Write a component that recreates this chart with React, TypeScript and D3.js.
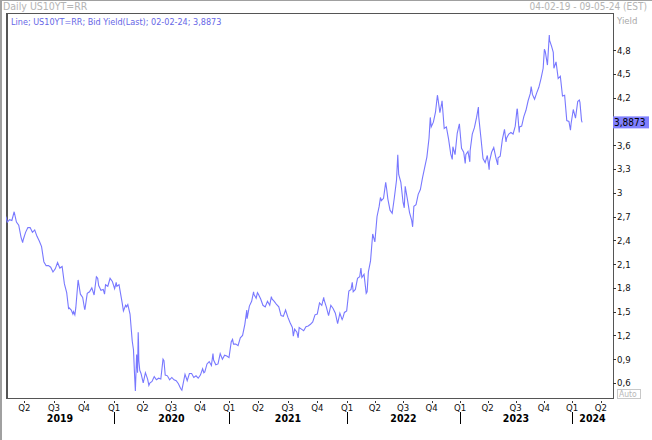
import React from "react";
import * as d3 from "d3";

// ---- DATA (weekly Friday closes, US 10Y yield) ----
const weeklyStart = "2019-02-08";
const yields2019 = [2.63, 2.66, 2.65, 2.76, 2.63, 2.59, 2.44, 2.41, 2.50, 2.56, 2.56, 2.50, 2.53, 2.45, 2.39, 2.32, 2.13, 2.08, 2.08, 2.06, 2.00, 2.04, 2.12, 2.05, 2.07, 1.85, 1.74, 1.55, 1.52, 1.50, 1.55, 1.90, 1.72, 1.68, 1.53, 1.73, 1.75, 1.80, 1.71, 1.94, 1.83, 1.77, 1.78, 1.84, 1.82, 1.92, 1.88];
const yields2020 = [1.79, 1.82, 1.84, 1.68, 1.51, 1.58, 1.59, 1.47, 1.13, 0.74, 0.96, 0.88, 0.72, 0.60, 0.73, 0.65, 0.60, 0.62, 0.68, 0.64, 0.66, 0.65, 0.90, 0.70, 0.69, 0.64, 0.67, 0.64, 0.63, 0.59, 0.53, 0.57, 0.71, 0.63, 0.72, 0.72, 0.67, 0.69, 0.66, 0.70, 0.78, 0.74, 0.84, 0.87, 0.82, 0.89, 0.83, 0.84, 0.97, 0.90, 0.95, 0.94];
const yields2021 = [0.92, 1.12, 1.09, 1.09, 1.07, 1.17, 1.20, 1.34, 1.41, 1.57, 1.63, 1.72, 1.67, 1.72, 1.66, 1.58, 1.56, 1.63, 1.58, 1.66, 1.63, 1.59, 1.56, 1.45, 1.44, 1.52, 1.43, 1.36, 1.30, 1.28, 1.24, 1.30, 1.28, 1.26, 1.31, 1.32, 1.34, 1.37, 1.46, 1.47, 1.61, 1.58, 1.65, 1.56, 1.45, 1.58, 1.54, 1.48, 1.35, 1.48, 1.40, 1.49, 1.51];
const yields2022 = [1.76, 1.78, 1.75, 1.78, 1.92, 1.94, 1.93, 1.97, 1.73, 2.00, 2.14, 2.48, 2.38, 2.70, 2.83, 2.90, 2.93, 3.13, 2.92, 2.78, 2.74, 2.94, 3.16, 3.23, 3.13, 2.88, 3.08, 2.92, 2.75, 2.65, 2.83, 2.85, 2.98, 3.04, 3.19, 3.32, 3.45, 3.69, 3.83, 3.89, 4.02, 4.21, 4.01, 4.16, 3.81, 3.83, 3.68, 3.49, 3.58, 3.48, 3.75, 3.87];
const yields2023 = [3.56, 3.51, 3.48, 3.52, 3.53, 3.74, 3.82, 3.95, 3.96, 3.70, 3.43, 3.38, 3.47, 3.39, 3.51, 3.57, 3.44, 3.44, 3.46, 3.67, 3.80, 3.69, 3.74, 3.76, 3.74, 3.84, 4.05, 3.83, 3.84, 3.96, 4.04, 4.16, 4.25, 4.24, 4.18, 4.26, 4.33, 4.44, 4.57, 4.78, 4.61, 4.92, 4.84, 4.57, 4.65, 4.44, 4.47, 4.22, 4.23, 3.91, 3.90, 3.87];
const yields2024 = [4.05, 3.94, 4.15, 4.14, 3.8873];

// intra-week highs / lows visible in the chart
const extraDates = ["2019-02-04", "2019-03-27", "2019-08-15", "2019-08-28", "2019-09-03", "2019-10-03", "2019-11-12", "2019-12-03", "2020-01-08", "2020-01-27", "2020-02-10", "2020-03-03", "2020-03-09", "2020-03-16", "2020-03-18", "2020-03-19", "2020-03-23", "2020-04-21", "2020-06-08", "2020-08-04", "2020-10-13", "2020-11-11", "2021-01-12", "2021-02-25", "2021-03-18", "2021-03-30", "2021-05-12", "2021-07-19", "2021-08-03", "2021-10-21", "2021-12-20", "2022-01-18", "2022-02-15", "2022-03-07", "2022-04-19", "2022-05-09", "2022-06-14", "2022-07-05", "2022-08-01", "2022-09-27", "2022-10-20", "2022-11-03", "2022-12-07", "2023-01-18", "2023-02-02", "2023-03-02", "2023-04-06", "2023-05-04", "2023-05-31", "2023-07-06", "2023-07-13", "2023-08-21", "2023-10-03", "2023-10-19", "2023-11-01", "2023-12-27", "2024-01-24", "2024-01-31"];
const extraYields = [2.70, 2.37, 1.53, 1.47, 1.46, 1.53, 1.92, 1.72, 1.87, 1.61, 1.56, 1.02, 0.50, 0.73, 1.24, 1.12, 0.76, 0.57, 0.88, 0.51, 0.73, 0.97, 1.15, 1.52, 1.75, 1.74, 1.69, 1.19, 1.17, 1.68, 1.43, 1.87, 2.05, 1.75, 2.94, 3.05, 3.48, 2.81, 2.57, 3.95, 4.23, 4.13, 3.42, 3.37, 3.39, 4.08, 3.29, 3.35, 3.64, 4.06, 3.76, 4.34, 4.81, 4.99, 4.77, 3.79, 4.17, 3.91];

const yTicks = [0.6, 0.9, 1.2, 1.5, 1.8, 2.1, 2.4, 2.7, 3.0, 3.3, 3.6, 4.2, 4.5, 4.8];
const lastValue = 3.8873;
const titleText = "Daily US10YT=RR";
const rangeText = "04-02-19 - 09-05-24 (EST)";
const legendText = "Line; US10YT=RR; Bid Yield(Last); 02-02-24; 3,8873";
const axisTitle = "Yield";

// ---- LAYOUT ----
const W = 652, H = 440;
const L = 6, R = 613, T = 13, B = 399;
const xAnchorDates = ["2019-02-04", "2020-01-01", "2021-01-01", "2022-01-01", "2023-01-01", "2024-01-01", "2024-05-09"];
const xAnchorPx = [L, 114, 229, 347, 460, 572, R];
const FONT = "Tahoma, 'DejaVu Sans Condensed', 'DejaVu Sans', sans-serif";
const LINE_COLOR = "#7878ff";

const parse = d3.timeParse("%Y-%m-%d");

function fmt(v: number) {
  const s = Math.abs(v - Math.round(v)) < 1e-9 ? String(Math.round(v)) : v.toFixed(1);
  return s.replace(".", ",");
}

export default function App() {
  const weekly = [...yields2019, ...yields2020, ...yields2021, ...yields2022, ...yields2023, ...yields2024];
  const start = parse(weeklyStart)!;
  const pts = weekly.map((v, i) => ({ date: d3.timeDay.offset(start, 7 * i), v }));
  extraDates.forEach((d, i) => pts.push({ date: parse(d)!, v: extraYields[i] }));
  pts.sort((a, b) => +a.date - +b.date);

  const x = d3.scaleTime().domain(xAnchorDates.map((d) => parse(d)!)).range(xAnchorPx);
  const y = d3.scaleLinear().domain([0.398, 5.267]).range([B, T]);

  const line = d3.line<{ date: Date; v: number }>().x((d) => x(d.date)).y((d) => y(d.v));

  const d0 = parse(xAnchorDates[0])!;
  const d1 = parse(xAnchorDates[xAnchorDates.length - 1])!;
  const quarters = d3.timeMonth.every(3)!.range(d0, d1).filter((d) => d.getMonth() % 3 === 0);
  const years = d3.timeYear.range(d3.timeYear.floor(d0), d1);

  return (
    <svg width={W} height={H} style={{ position: "absolute", left: 0, top: 0, background: "#fff" }} fontFamily={FONT}>
      <rect x={0} y={0} width={W} height={H} fill="#fff" />
      {/* outer sunken border */}
      <line x1={0} y1={0.5} x2={W} y2={0.5} stroke="#a0a0a0" />
      <line x1={1} y1={0} x2={1} y2={H} stroke="#a0a0a0" strokeWidth={2} />

      <text x={3} y={10} fontSize={10.5} fill="#b4b4b4">{titleText}</text>
      <text x={647} y={10} fontSize={10} fill="#b4b4b4" textAnchor="end">{rangeText}</text>
      <text x={617} y={24} fontSize={9.5} fill="#a8a8a8">{axisTitle}</text>

      <defs>
        <clipPath id="plotclip">
          <rect x={L} y={T} width={R - L} height={B - T} />
        </clipPath>
      </defs>

      {/* plot frame */}
      <rect x={L + 0.5} y={T + 0.5} width={R - L} height={B - T - 1} fill="#fff" stroke="#555" strokeWidth={1} />
      <line x1={L + 1.5} y1={T} x2={L + 1.5} y2={B} stroke="#555" strokeWidth={1} />
      <line x1={L} y1={B - 0.5} x2={R + 1} y2={B - 0.5} stroke="#555" strokeWidth={1} />

      <text x={11} y={25} fontSize={9} fill="#6666e6">{legendText}</text>

      <path d={line(pts) || ""} fill="none" stroke={LINE_COLOR} strokeWidth={1.1} clipPath="url(#plotclip)" />

      {/* y axis */}
      {yTicks.map((t) => (
        <g key={t}>
          <line x1={R} x2={R + 3} y1={Math.round(y(t)) + 0.5} y2={Math.round(y(t)) + 0.5} stroke="#333" />
          <text x={617} y={y(t) + 3.5} fontSize={9.5} fill="#111">{fmt(t)}</text>
        </g>
      ))}
      <rect x={R} y={y(lastValue) - 6} width={36} height={12} fill="#8080ff" />
      <text x={R + 1} y={y(lastValue) + 4} fontSize={10} fill="#000">{String(lastValue).replace(".", ",")}</text>

      {/* Auto box */}
      <rect x={617.5} y={389.5} width={23} height={9} fill="#fff" stroke="#c8c8c8" />
      <text x={619} y={397} fontSize={8.5} fill="#b8b8b8">Auto</text>

      {/* x axis quarters */}
      {quarters.map((q) => (
        <g key={+q}>
          <line x1={Math.round(x(q)) + 0.5} x2={Math.round(x(q)) + 0.5} y1={401} y2={403} stroke="#333" />
          <text x={x(q)} y={411} fontSize={9.5} textAnchor="middle" fill="#111">{"Q" + (q.getMonth() / 3 + 1)}</text>
        </g>
      ))}
      {/* year separators and labels */}
      {years.map((yr) => {
        const ys = Math.max(x(yr), L);
        const ye = Math.min(x(d3.timeYear.offset(yr, 1)), R);
        return (
          <g key={+yr}>
            {x(yr) > L && (
              <line x1={Math.round(x(yr)) + 0.5} x2={Math.round(x(yr)) + 0.5} y1={412} y2={424} stroke="#000" />
            )}
            <text x={(ys + ye) / 2} y={422} fontSize={10.5} fontWeight="bold" textAnchor="middle" fill="#000">
              {yr.getFullYear()}
            </text>
          </g>
        );
      })}
    </svg>
  );
}
